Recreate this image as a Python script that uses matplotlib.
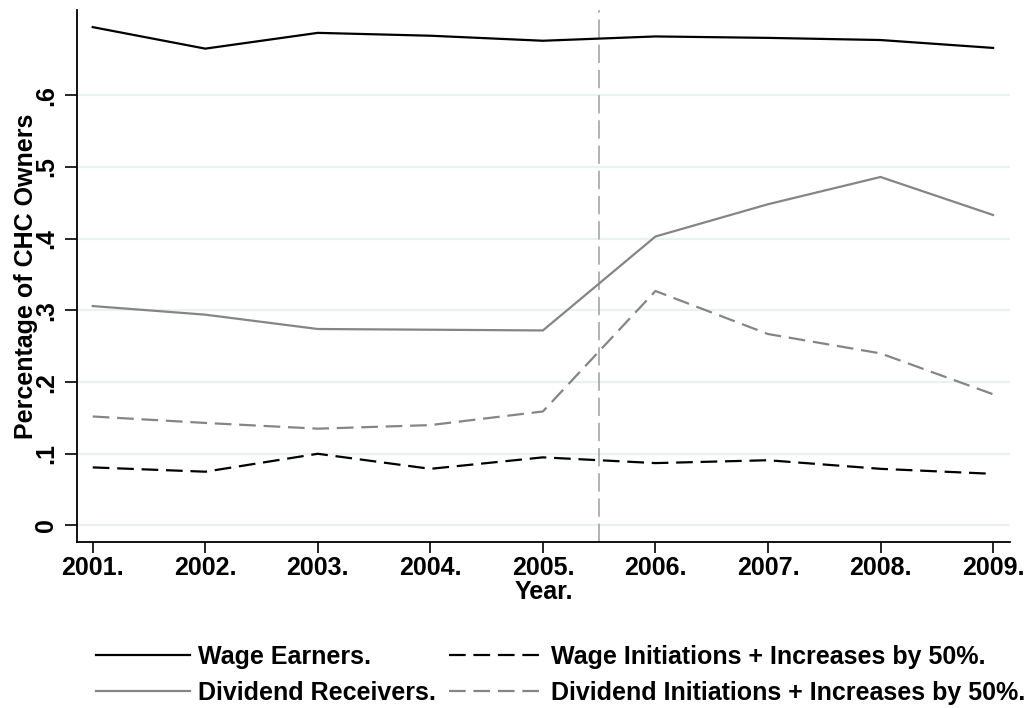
import matplotlib
matplotlib.use("Agg")
import matplotlib.pyplot as plt

years = [2001, 2002, 2003, 2004, 2005, 2006, 2007, 2008, 2009]
wage_earners = [0.695, 0.665, 0.687, 0.683, 0.676, 0.682, 0.680, 0.677, 0.666]
dividend_receivers = [0.306, 0.294, 0.274, 0.273, 0.272, 0.403, 0.448, 0.486, 0.433]
wage_init = [0.081, 0.075, 0.100, 0.079, 0.095, 0.087, 0.091, 0.079, 0.072]
dividend_init = [0.152, 0.143, 0.135, 0.140, 0.159, 0.327, 0.267, 0.240, 0.183]
yticks = [0, 0.1, 0.2, 0.3, 0.4, 0.5, 0.6]
ytick_labels = ["0", ".1", ".2", ".3", ".4", ".5", ".6"]
xtick_labels = [f"{y}." for y in years]
event_x = 2005.5

plt.rcParams['font.family'] = ['Liberation Sans', 'DejaVu Sans']
plt.rcParams['font.weight'] = 'bold'
FS = 18

fig = plt.figure(figsize=(10.29, 7.08), dpi=100)
ax = fig.add_axes([0.0748, 0.2345, 0.9067, 0.7515])

grid_c = '#E9F1F3'
for yv in yticks:
    ax.axhline(yv, color=grid_c, lw=1.6, zorder=0)

gray = '#858585'
dash = (0, (7.5, 3.5))
LW = 1.6
l1, = ax.plot(years, wage_earners, color='black', lw=LW, label='Wage Earners.')
l2, = ax.plot(years, dividend_receivers, color=gray, lw=LW, label='Dividend Receivers.')
l3, = ax.plot(years, wage_init, color='black', lw=LW, linestyle=dash,
              label='Wage Initiations + Increases by 50%.')
l4, = ax.plot(years, dividend_init, color=gray, lw=LW, linestyle=dash,
              label='Dividend Initiations + Increases by 50%.')
ax.axvline(event_x, color='#9E9E9E', lw=1.1, linestyle=(0, (12, 4.5)), zorder=1)

ax.set_xlim(2000.86, 2009.15)
ax.set_ylim(-0.023, 0.719)
ax.set_xticks(years)
ax.set_xticklabels(xtick_labels, fontsize=FS, fontweight='bold')
ax.set_yticks(yticks)
ax.set_yticklabels(ytick_labels, fontsize=FS, fontweight='bold', rotation=90, va='center')
ax.tick_params(axis='x', length=8, width=1.2, color='black', pad=2)
ax.tick_params(axis='y', length=8.6, width=1.2, color='black', pad=4.75)
for s in ['top', 'right']:
    ax.spines[s].set_visible(False)
for s in ['left', 'bottom']:
    ax.spines[s].set_linewidth(1.3)

ax.set_xlabel('Year.', fontsize=FS, fontweight='bold', labelpad=0)
ax.set_ylabel('Percentage of CHC Owners', fontsize=FS, fontweight='bold')
ax.yaxis.set_label_coords(-0.0414, 0.5)

fig.legend(handles=[l1, l2, l3, l4], ncol=2, frameon=False,
           prop={'size': FS, 'weight': 'bold'},
           loc='upper left', bbox_to_anchor=(0.0933, 0.089), bbox_transform=fig.transFigure,
           handlelength=3.76, handletextpad=0.3, columnspacing=0.55, labelspacing=0.49,
           borderpad=0, borderaxespad=0)
fig.savefig('out.png', dpi=100)
